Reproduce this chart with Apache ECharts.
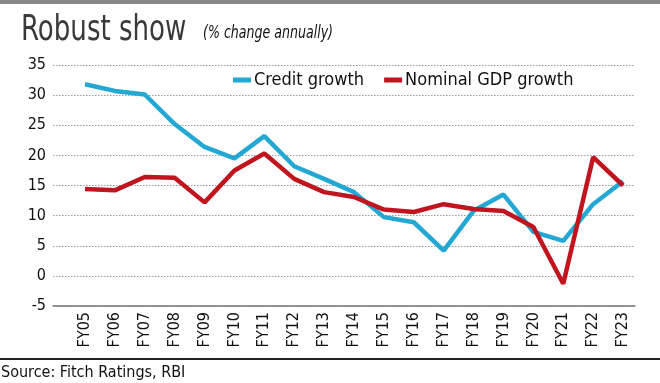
<!DOCTYPE html>
<html><head><meta charset="utf-8">
<script src="https://cdn.jsdelivr.net/npm/echarts@6/dist/echarts.min.js"></script>
<style>html,body{margin:0;padding:0;background:#fff}#c{width:660px;height:383px}</style>
</head><body><div id="c"></div>
<script>
const categories = ["FY05","FY06","FY07","FY08","FY09","FY10","FY11","FY12","FY13","FY14","FY15","FY16","FY17","FY18","FY19","FY20","FY21","FY22","FY23"];
const creditGrowth = [31.8,30.7,30.1,25.2,21.4,19.5,23.2,18.2,16.1,13.9,9.75,8.9,4.2,10.8,13.5,7.3,5.8,11.9,15.7];
const nominalGdpGrowth = [14.4,14.2,16.4,16.3,12.2,17.5,20.3,16.1,13.9,13.1,11.0,10.6,11.9,11.1,10.75,8.1,-1.3,19.7,15.0];
const yTicks = [-5,0,5,10,15,20,25,30,35];

const FONT = '"DejaVu Sans Condensed","DejaVu Sans",sans-serif';
const chart = echarts.init(document.getElementById('c'), null, {renderer:'canvas'});
const idx = categories.map((_, i) => i);
chart.setOption({
  animation:false,
  backgroundColor:'#fff',
  grid:{left:53,right:25,top:65,bottom:77,containLabel:false},
  legend:{
    left:228, top:66, itemWidth:18, itemHeight:5, itemGap:20,
    icon:'rect',
    textStyle:{fontFamily:FONT,fontSize:18,color:'#111',padding:[0,0,0,-2]},
    data:['Credit growth','Nominal GDP growth']
  },
  xAxis:{
    type:'value', min:-1.07, max:18.4,
    splitLine:{show:false},
    axisLine:{show:true,onZero:false,lineStyle:{color:'#777',width:1.5}},
    axisTick:{show:false},
    axisLabel:{
      customValues:idx, rotate:90, margin:6,
      fontFamily:FONT, fontSize:16, color:'#111',
      formatter:v=>categories[Math.round(v)]
    }
  },
  yAxis:{
    type:'value', min:yTicks[0], max:yTicks[yTicks.length-1], interval:5,
    axisLine:{show:false}, axisTick:{show:false},
    axisLabel:{margin:7,fontFamily:FONT,fontSize:16,color:'#111'},
    splitLine:{show:true,lineStyle:{color:'#999',type:[1.5,1.5],width:1}}
  },
  series:[
    {name:'Credit growth',type:'line',data:creditGrowth.map((v,i)=>[i,v]),symbol:'none',
     lineStyle:{color:'#22a8d2',width:4.5},itemStyle:{color:'#22a8d2'},z:2},
    {name:'Nominal GDP growth',type:'line',data:nominalGdpGrowth.map((v,i)=>[i,v]),symbol:'none',
     lineStyle:{color:'#c0151f',width:4.5},itemStyle:{color:'#c0151f'},z:3}
  ],
  graphic:[
    {type:'rect',shape:{x:0,y:0,width:660,height:4},style:{fill:'#888'}},
    {type:'text',x:21,y:31,scaleY:1.25,style:{text:'Robust show',fontFamily:FONT,fontSize:29,fill:'#3a3a3a',verticalAlign:'middle'}},
    {type:'text',x:203,y:33,scaleY:1.25,style:{text:'(% change annually)',fontFamily:FONT,fontStyle:'italic',fontSize:14,fill:'#111',verticalAlign:'middle'}},
    {type:'line',shape:{x1:0,y1:359,x2:660,y2:359},style:{stroke:'#222',lineWidth:2}},
    {type:'text',x:1,y:373,style:{text:'Source: Fitch Ratings, RBI',fontFamily:FONT,fontSize:16,fill:'#111',verticalAlign:'middle'}}
  ]
});
</script></body></html>
